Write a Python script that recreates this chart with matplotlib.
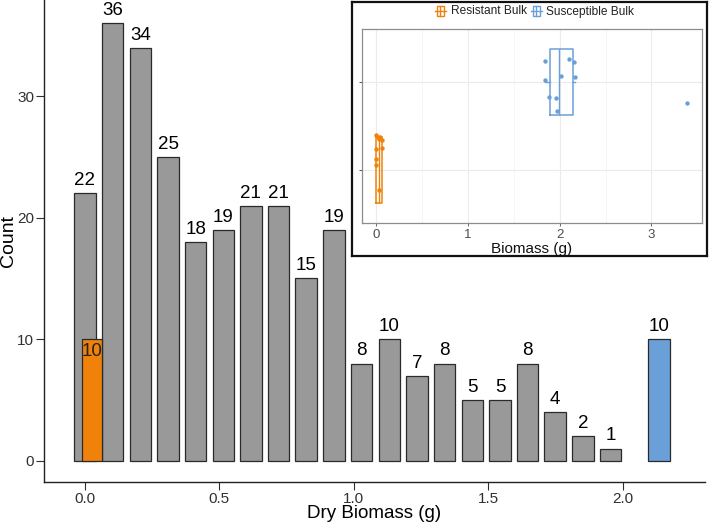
import matplotlib
matplotlib.use("Agg")
import matplotlib.pyplot as plt
from matplotlib.patches import Rectangle
from matplotlib.lines import Line2D
import numpy as np

plt.rcParams['font.family'] = ['Liberation Sans', 'DejaVu Sans']

# ---------------- data ----------------
bin_centers = [0.0, 0.103, 0.206, 0.309, 0.412, 0.515, 0.617, 0.720, 0.823, 0.926,
               1.029, 1.132, 1.235, 1.338, 1.441, 1.544, 1.646, 1.749, 1.852, 1.955]
counts = [22, 36, 34, 25, 18, 19, 21, 21, 15, 19, 8, 10, 7, 8, 5, 5, 8, 4, 2, 1]
bulk_names = ["Resistant Bulk", "Susceptible Bulk"]
bulk_centers = [0.026, 2.135]
bulk_counts = [10, 10]
bulk_widths = [0.077, 0.082]
bulk_colors = ["#F0820A", "#6A9FD8"]

x_ticks = [0.0, 0.5, 1.0, 1.5, 2.0]
x_ticklabels = ["0.0", "0.5", "1.0", "1.5", "2.0"]
y_ticks = [0, 10, 20, 30]

# inset: individual biomass values (g) and jittered positions
res_biomass = [0.0, 0.02, 0.045, 0.06, 0.03, 0.0, 0.06, 0.0, 0.0, 0.03]
res_jitter = [1.40, 1.38, 1.37, 1.34, 1.35, 1.24, 1.25, 1.13, 1.06, 0.77]
sus_biomass = [1.84, 2.10, 2.16, 1.84, 2.01, 2.17, 1.88, 1.96, 1.97, 3.385]
sus_jitter = [2.236, 2.265, 2.23, 2.02, 2.07, 2.06, 1.835, 1.82, 1.67, 1.76]
# box statistics (q1, median, q3, whisker low, whisker high)
res_stats = dict(q1=0.0, med=0.03, q3=0.058, whislo=0.0, whishi=0.06)
sus_stats = dict(q1=1.895, med=1.99, q3=2.15, whislo=1.835, whishi=2.17)
inset_xticks = [0, 1, 2, 3]

# ---------------- figure ----------------
W, H = 709, 524
fig = plt.figure(figsize=(W / 100, H / 100), dpi=100)

def px_box(x0, y0, x1, y1):
    return [x0 / W, 1 - y1 / H, (x1 - x0) / W, (y1 - y0) / H]

ax = fig.add_axes(px_box(44, 0, 705, 482))
ax.set_zorder(0)
ax.bar(bin_centers, counts, width=0.08, color="#999999", edgecolor="#2A2A2A", linewidth=0.9, zorder=2)
for xc, c in zip(bin_centers, counts):
    ax.annotate(str(c), (xc, c), xytext=(0, 5.8), textcoords="offset points",
                ha="center", va="baseline", fontsize=13.5, color="black", zorder=5)

ax.bar(bulk_centers, bulk_counts, width=bulk_widths, color=bulk_colors,
       edgecolor="#2A2A2A", linewidth=0.9, zorder=3)
# label of resistant bulk inside the bar, susceptible above
ax.annotate(str(bulk_counts[0]), (bulk_centers[0], bulk_counts[0]), xytext=(0, -12.1),
            textcoords="offset points", ha="center", va="baseline", fontsize=13.5,
            color="#222222", zorder=5)
ax.annotate(str(bulk_counts[1]), (bulk_centers[1], bulk_counts[1]), xytext=(0, 5.8),
            textcoords="offset points", ha="center", va="baseline", fontsize=13.5,
            color="black", zorder=5)

ax.set_xlim(-0.1525, 2.3066)
ax.set_ylim(-1.753, 37.92)
ax.set_xticks(x_ticks)
ax.set_xticklabels(x_ticklabels)
ax.set_yticks(y_ticks)
ax.tick_params(axis="both", labelsize=11, labelcolor="#303030", color="#303030",
               length=5.5, width=0.8, pad=1.5)
for s in ["top", "right"]:
    ax.spines[s].set_visible(False)
for s in ["left", "bottom"]:
    ax.spines[s].set_linewidth(1.0)
    ax.spines[s].set_color("#222222")
ax.set_xlabel("Dry Biomass (g)", fontsize=13.5)
ax.set_ylabel("Count", fontsize=14)
ax.xaxis.set_label_coords(0.5, -31 / 482)
ax.xaxis.label.set_va("center")
ax.yaxis.set_label_coords(-35.5 / 661, 0.5)
ax.yaxis.label.set_va("center")

# ---------------- inset frame + legend ----------------
ov = fig.add_axes(px_box(352, 2, 707, 256))
ov.set_zorder(1)
ov.set_xlim(0, 355)
ov.set_ylim(254, 0)
ov.set_xticks([])
ov.set_yticks([])
ov.set_facecolor("white")
for s in ov.spines.values():
    s.set_linewidth(1.6)
    s.set_color("#111111")

def key(ax_, xc, yc, color):
    ax_.add_patch(Rectangle((xc - 3.5, yc - 5), 7, 10, fill=False, edgecolor=color, lw=1.0))
    ax_.add_line(Line2D([xc, xc], [yc - 5, yc + 5], color=color, lw=1.0))
    ax_.add_line(Line2D([xc - 5.5, xc + 5.5], [yc, yc], color=color, lw=1.0))

key(ov, 88, 9, bulk_colors[0])
ov.text(99, 9.5, bulk_names[0], fontsize=8.6, va="center", ha="left", color="#222222")
key(ov, 184, 9, bulk_colors[1])
ov.text(194.5, 9.5, bulk_names[1], fontsize=8.6, va="center", ha="left", color="#222222")

# ---------------- inset panel ----------------
ia = fig.add_axes(px_box(361.7, 29.3, 702, 222.7))
ia.set_zorder(2)
ia.set_xlim(-0.159, 3.552)
ia.set_ylim(0.4, 2.6)
ia.set_xticks(inset_xticks)
ia.set_xticks([0.5, 1.5, 2.5], minor=True)
ia.set_yticks([1, 2])
ia.set_yticklabels([])
ia.grid(True, which="major", color="#EBEBEB", lw=0.8)
ia.grid(True, which="minor", axis="x", color="#F3F3F3", lw=0.5)
ia.set_axisbelow(True)
ia.tick_params(axis="x", which="major", labelsize=9.5, labelcolor="#4D4D4D", color="#4D4D4D",
               length=2.5, width=0.6, pad=2)
ia.tick_params(axis="y", which="major", color="#333333", length=2.5, width=0.6)
ia.tick_params(which="minor", length=0)
for s in ia.spines.values():
    s.set_color("#8C8C8C")
    s.set_linewidth(0.9)
ia.set_xlabel("Biomass (g)", fontsize=11, labelpad=1, color="#111111")

for stats, pos, col in [(res_stats, 1, bulk_colors[0]), (sus_stats, 2, bulk_colors[1])]:
    st = dict(stats)
    st["fliers"] = []
    ia.bxp([st], positions=[pos], vert=False, widths=0.76, showfliers=False,
           showcaps=False, patch_artist=False,
           boxprops=dict(color=col, lw=1.1), medianprops=dict(color=col, lw=1.0),
           whiskerprops=dict(color=col, lw=1.0), manage_ticks=False)

ia.scatter(res_biomass, res_jitter, s=10, color=bulk_colors[0], zorder=3, linewidths=0)
ia.scatter(sus_biomass, sus_jitter, s=10, color=bulk_colors[1], zorder=3, linewidths=0)

fig.savefig("out.png", dpi=100)
